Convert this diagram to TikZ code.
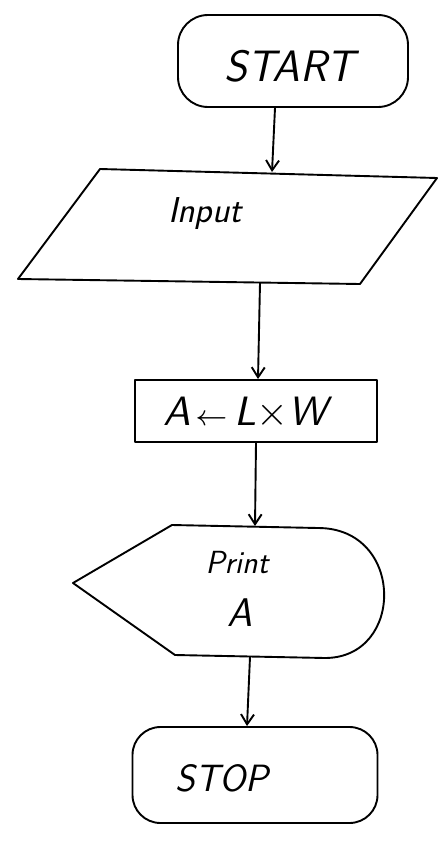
\documentclass[tikz,border=0pt]{standalone}
\usetikzlibrary{arrows.meta}
\begin{document}
\begin{tikzpicture}[x=1pt,y=-1pt,
  ln/.style={line width=1.9pt,line join=round,line cap=round},
  term/.style={ln,draw,rectangle,rounded corners=30pt,inner sep=0pt},
  proc/.style={ln,draw,rectangle,inner sep=0pt},
  lbl/.style={inner sep=0pt,font=\sffamily\itshape},
  conn/.style={ln,-{Straight Barb[length=10pt,width=13pt,line width=1.9pt]}}]
\useasboundingbox (0,0) rectangle (445,843);
\fill[white] (0,0) rectangle (445,843);
% START
\node[term,minimum width=230pt,minimum height=92pt] (start) at (293,61) {};
\node[lbl,font=\sffamily\itshape\fontsize{44}{48}\selectfont] (starttxt) at (290,66) {START};
% Input parallelogram
\coordinate (inTL) at (100,169);
\coordinate (inTR) at (437,178);
\coordinate (inBR) at (360,284);
\coordinate (inBL) at (18,279);
\draw[ln] (inTL) -- (inTR) -- (inBR) -- (inBL) -- cycle;
\coordinate (inTop) at (272,172);
\coordinate (inBot) at (260,283);
\node[lbl,font=\sffamily\itshape\fontsize{36}{40}\selectfont] (input) at (205,214) {Input};
% Process
\node[proc,minimum width=242pt,minimum height=62pt] (proc) at (256,411) {};
\node[lbl] (proctxt) at (245,413) {\scalebox{4.1}{\sffamily\itshape A\kern0.12em$\scriptstyle\leftarrow$\kern0.15em L$\times$W}};
% Print display shape
\coordinate (prL) at (73,583);
\coordinate (prTL) at (172,525);
\coordinate (prTR) at (318,528);
\coordinate (prBR) at (325,658);
\coordinate (prBL) at (175,655);
\draw[ln] (prL) -- (prTL) -- (prTR) .. controls (405,528) and (405,658) .. (prBR) -- (prBL) -- cycle;
\coordinate (prTop) at (255,526);
\coordinate (prBot) at (250,657);
\node[lbl,font=\sffamily\itshape\fontsize{32}{36}\selectfont] (printtxt) at (237,563) {Print};
\node[lbl,font=\sffamily\itshape\fontsize{40}{44}\selectfont] (atxt) at (240,613) {A};
% STOP
\node[term,minimum width=245pt,minimum height=96pt,rounded corners=28pt] (stop) at (255,775) {};
\node[lbl,font=\sffamily\itshape\fontsize{38}{42}\selectfont] (stoptxt) at (222,778) {STOP};
% connectors
\draw[conn] (start.south -| 275,0) -- (inTop);
\draw[conn] (inBot) -- (proc.north -| 258,0);
\draw[conn] (proc.south -| 256,0) -- (prTop);
\draw[conn] (prBot) -- (stop.north -| 247,0);
\end{tikzpicture}
\end{document}
